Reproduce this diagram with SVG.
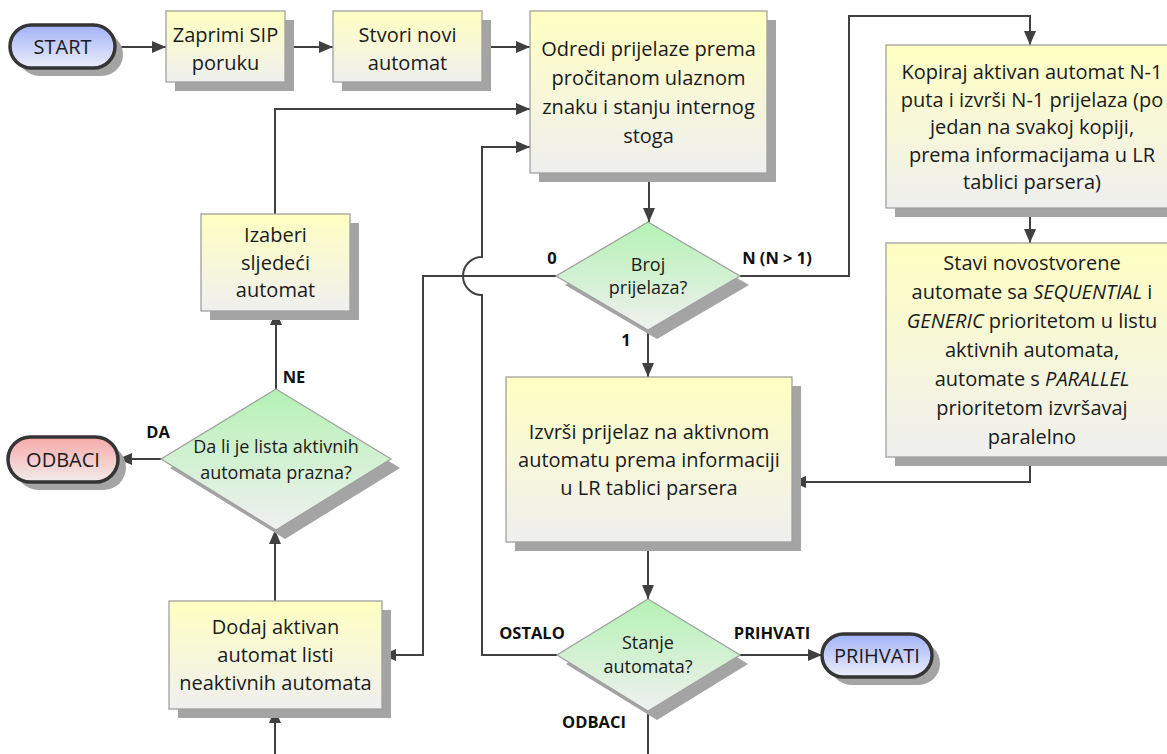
<svg xmlns="http://www.w3.org/2000/svg" width="1167" height="754" viewBox="0 0 1167 754">
<defs>
  <linearGradient id="gBox" x1="0" y1="0" x2="0" y2="1">
    <stop offset="0" stop-color="#FFFFC2"/>
    <stop offset="1" stop-color="#EFEFEF"/>
  </linearGradient>
  <linearGradient id="gDia" x1="0" y1="0" x2="0" y2="1">
    <stop offset="0" stop-color="#B4F2B4"/>
    <stop offset="1" stop-color="#F0F0F0"/>
  </linearGradient>
  <linearGradient id="gBlue" x1="0" y1="0" x2="0" y2="1">
    <stop offset="0" stop-color="#A2B2FA"/>
    <stop offset="1" stop-color="#ECEEF8"/>
  </linearGradient>
  <linearGradient id="gRed" x1="0" y1="0" x2="0" y2="1">
    <stop offset="0" stop-color="#F6A8A8"/>
    <stop offset="1" stop-color="#F3ECEC"/>
  </linearGradient>
  <marker id="arr" viewBox="0 0 14 12" refX="14" refY="6" markerWidth="14" markerHeight="12" orient="auto" markerUnits="userSpaceOnUse">
    <path d="M0,0 L14,6 L0,12 z" fill="#404040"/>
  </marker>
</defs>
<style>
  .box { fill: url(#gBox); stroke: #A0A0A0; stroke-width: 1.3; }
  .dia { fill: url(#gDia); stroke: #A0A0A0; stroke-width: 1.3; }
  .sh { fill: #A4A4A4; }
  .term { stroke: #353535; stroke-width: 3.5; }
  .blue { fill: url(#gBlue); }
  .red { fill: url(#gRed); }
  .t { font-family: "Open Sans", "Noto Sans", sans-serif; font-size: 20px; fill: #1a1a1a; text-anchor: middle; }
  .td { font-family: "Open Sans", "Noto Sans", sans-serif; font-size: 18px; fill: #1a1a1a; text-anchor: middle; }
  .lbl { font-family: "Open Sans", "Noto Sans", sans-serif; font-size: 16.5px; font-weight: bold; fill: #111; text-anchor: middle; }
  .c { fill: none; stroke: #404040; stroke-width: 2; }
  .a { marker-end: url(#arr); }
</style>

<g id="connectors">
  <path class="c a" d="M115 47 H166"/>
  <path class="c a" d="M285 47 H333"/>
  <path class="c a" d="M482 47 H530"/>
  <path class="c a" d="M649 173 V222"/>
  <path class="c a" d="M648 330 V377"/>
  <path class="c a" d="M740 276 H849 V16 H1030 V45"/>
  <path class="c a" d="M1030 208 V243"/>
  <path class="c a" d="M1030 457 V482 H792"/>
  <path class="c a" d="M556 276 H423 V655 H382"/>
  <path class="c a" d="M648 542 V599"/>
  <path class="c a" d="M740 655 H822"/>
  <path class="c a" d="M557 655 H482 V295 A19 19 0 0 1 482 257 V147 H530"/>
  <path class="c" d="M648 711 V754"/>
  <path class="c a" d="M275 754 V709"/>
  <path class="c a" d="M275 601 V530"/>
  <path class="c a" d="M161 459 H118"/>
  <path class="c a" d="M276 389 V311"/>
  <path class="c a" d="M275 214 V109 H530"/>
  <text class="lbl" x="552" y="264">0</text>
  <text class="lbl" x="777" y="264">N (N &gt; 1)</text>
  <text class="lbl" x="626" y="346">1</text>
  <text class="lbl" x="294" y="383">NE</text>
  <text class="lbl" x="158" y="438">DA</text>
  <text class="lbl" x="532" y="639">OSTALO</text>
  <text class="lbl" x="772" y="639">PRIHVATI</text>
  <text class="lbl" x="594" y="728">ODBACI</text>
</g>

<g id="start">
  <rect class="sh" x="18" y="33" width="105" height="43" rx="21.5"/>
  <rect class="term blue" x="10" y="25" width="105" height="43" rx="21.5"/>
  <text class="t" x="62.5" y="54">START</text>
</g>

<g id="zaprimi">
  <rect class="sh" x="175" y="20" width="119" height="71"/>
  <rect class="box" x="166" y="11" width="119" height="71"/>
  <text class="t" x="225.5" y="42">Zaprimi SIP</text>
  <text class="t" x="225.5" y="70">poruku</text>
</g>

<g id="stvori">
  <rect class="sh" x="342" y="20" width="149" height="71"/>
  <rect class="box" x="333" y="11" width="149" height="71"/>
  <text class="t" x="407.5" y="42">Stvori novi</text>
  <text class="t" x="407.5" y="70">automat</text>
</g>

<g id="odredi">
  <rect class="sh" x="539" y="20" width="237" height="162"/>
  <rect class="box" x="530" y="11" width="237" height="162"/>
  <text class="t" x="648.5" y="56">Odredi prijelaze prema</text>
  <text class="t" x="648.5" y="85">pročitanom ulaznom</text>
  <text class="t" x="648.5" y="114">znaku i stanju internog</text>
  <text class="t" x="648.5" y="143">stoga</text>
</g>

<g id="kopiraj">
  <rect class="sh" x="895" y="54" width="288" height="163"/>
  <rect class="box" x="886" y="45" width="288" height="163"/>
  <text class="t" x="1032" y="79">Kopiraj aktivan automat N-1</text>
  <text class="t" x="1032" y="106.5">puta i izvrši N-1 prijelaza (po</text>
  <text class="t" x="1032" y="134">jedan na svakoj kopiji,</text>
  <text class="t" x="1032" y="161.5">prema informacijama u LR</text>
  <text class="t" x="1032" y="189">tablici parsera)</text>
</g>

<g id="stavi">
  <rect class="sh" x="895" y="252" width="288" height="214"/>
  <rect class="box" x="886" y="243" width="288" height="214"/>
  <text class="t" x="1032" y="270">Stavi novostvorene</text>
  <text class="t" x="1032" y="299">automate sa <tspan font-style="italic">SEQUENTIAL</tspan> i</text>
  <text class="t" x="1032" y="328"><tspan font-style="italic">GENERIC</tspan> prioritetom u listu</text>
  <text class="t" x="1032" y="357">aktivnih automata,</text>
  <text class="t" x="1032" y="386">automate s <tspan font-style="italic">PARALLEL</tspan></text>
  <text class="t" x="1032" y="415">prioritetom izvršavaj</text>
  <text class="t" x="1032" y="444">paralelno</text>
</g>

<g id="broj">
  <polygon class="sh" points="657,231 749,285 657,339 565,285"/>
  <polygon class="dia" points="648,222 740,276 648,330 556,276"/>
  <text class="td" x="648" y="271">Broj</text>
  <text class="td" x="648" y="294">prijelaza?</text>
</g>

<g id="izvrsi">
  <rect class="sh" x="515" y="386" width="286" height="165"/>
  <rect class="box" x="506" y="377" width="286" height="165"/>
  <text class="t" x="649" y="439">Izvrši prijelaz na aktivnom</text>
  <text class="t" x="649" y="467">automatu prema informaciji</text>
  <text class="t" x="649" y="495">u LR tablici parsera</text>
</g>

<g id="stanje">
  <polygon class="sh" points="657,608 748,664 657,720 566,664"/>
  <polygon class="dia" points="648,599 740,655 648,711 557,655"/>
  <text class="td" x="648" y="649">Stanje</text>
  <text class="td" x="648" y="673">automata?</text>
</g>

<g id="prihvati">
  <rect class="sh" x="830" y="642" width="110" height="43" rx="21.5"/>
  <rect class="term blue" x="822" y="634" width="110" height="43" rx="21.5"/>
  <text class="t" x="877" y="663">PRIHVATI</text>
</g>

<g id="izaberi">
  <rect class="sh" x="210" y="223" width="149" height="97"/>
  <rect class="box" x="201" y="214" width="149" height="97"/>
  <text class="t" x="275.5" y="242">Izaberi</text>
  <text class="t" x="275.5" y="270">sljedeći</text>
  <text class="t" x="275.5" y="297">automat</text>
</g>

<g id="dalije">
  <polygon class="sh" points="285,398 400,468 285,539 170,468"/>
  <polygon class="dia" points="276,389 391,459 276,530 161,459"/>
  <text class="td" x="276" y="453">Da li je lista aktivnih</text>
  <text class="td" x="276" y="479">automata prazna?</text>
</g>

<g id="odbaci">
  <rect class="sh" x="16" y="445" width="110" height="45" rx="22.5"/>
  <rect class="term red" x="8" y="437" width="110" height="45" rx="22.5"/>
  <text class="t" x="63" y="467">ODBACI</text>
</g>

<g id="dodaj">
  <rect class="sh" x="178" y="610" width="213" height="108"/>
  <rect class="box" x="169" y="601" width="213" height="108"/>
  <text class="t" x="275.5" y="634">Dodaj aktivan</text>
  <text class="t" x="275.5" y="662">automat listi</text>
  <text class="t" x="275.5" y="690">neaktivnih automata</text>
</g>
</svg>
